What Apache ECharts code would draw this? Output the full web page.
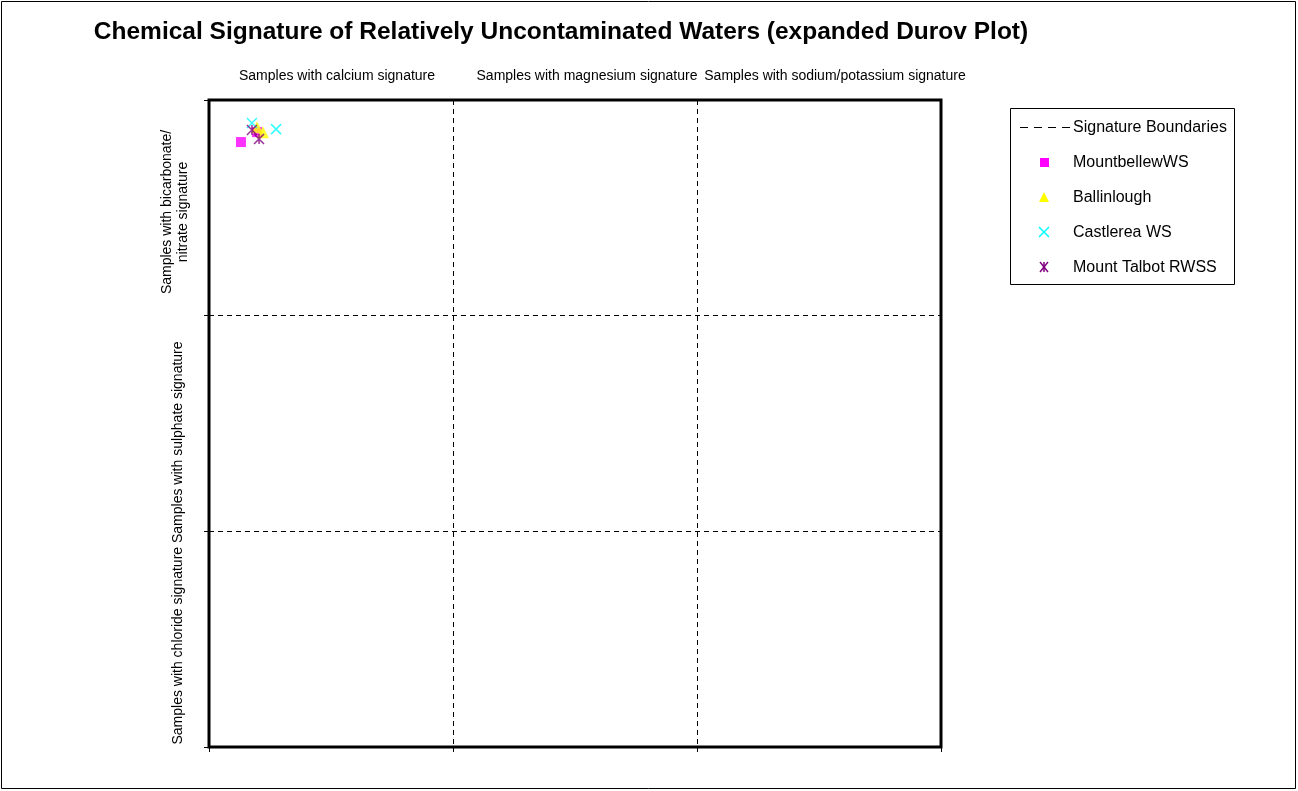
<!DOCTYPE html>
<html>
<head>
<meta charset="utf-8">
<script src="https://cdn.jsdelivr.net/npm/echarts@6/dist/echarts.min.js"></script>
<style>html,body{margin:0;padding:0;background:#fff;}#c{width:1298px;height:791px;}</style>
</head>
<body>
<div id="c"></div>
<script>
const title = 'Chemical Signature of Relatively Uncontaminated Waters (expanded Durov Plot)';
const topLabels = ['Samples with calcium signature', 'Samples with magnesium signature', 'Samples with sodium/potassium signature'];
const leftLabels = ['Samples with bicarbonate/', 'nitrate signature', 'Samples with chloride signature Samples with sulphate signature'];
const axisTicks = [0, 100, 200, 300];
const seriesNames = ['Signature Boundaries', 'MountbellewWS', 'Ballinlough', 'Castlerea WS', 'Mount Talbot RWSS'];
const mountbellew = [[13.1, 280.5], [19.7, 285.1]];
const ballinlough = [[19.7, 287.4], [22.1, 285.1]];
const castlerea = [[17.6, 289.3], [27.5, 286.5]];
const mountTalbot = [[17.6, 286.1], [20.5, 281.9]];

const font = 'Arial, "Liberation Sans", sans-serif';
const chart = echarts.init(document.getElementById('c'));
const xPath = 'path://M0,0L10,10M10,0L0,10';
const starPath = 'path://M0,0L10,10M10,0L0,10M5,0L5,10';

const axisCommon = {
  type: 'value', min: axisTicks[0], max: axisTicks[axisTicks.length - 1], interval: 100,
  axisLabel: { show: false },
  axisLine: { show: false },
  axisTick: { show: true, length: 5, lineStyle: { color: '#000', width: 1 } },
  splitLine: { show: true, lineStyle: { color: '#000', width: 1, type: [5, 4] } }
};

function legendItems() {
  const g = [];
  const x0 = 1010, y0 = 108, w = 224, h = 176;
  g.push({ type: 'rect', shape: { x: x0 + 0.5, y: y0 + 0.5, width: w, height: h }, style: { fill: '#fff', stroke: '#000', lineWidth: 1 }, z: 10 });
  const rows = [127, 162, 197, 232, 267];
  g.push({ type: 'line', shape: { x1: 1020, y1: rows[0] + 0.5, x2: 1071, y2: rows[0] + 0.5 }, style: { stroke: '#000', lineWidth: 1, lineDash: [8, 6] }, z: 11 });
  const cx = 1044;
  g.push({ type: 'rect', shape: { x: cx - 4, y: rows[1] - 4, width: 9, height: 9 }, style: { fill: '#FF00FF' }, z: 11 });
  g.push({ type: 'polygon', shape: { points: [[cx, rows[2] - 5], [cx + 5, rows[2] + 5], [cx - 5, rows[2] + 5]] }, style: { fill: '#FFFF00' }, z: 11 });
  g.push({ type: 'polyline', shape: { points: [[cx - 5, rows[3] - 5], [cx + 5, rows[3] + 5]] }, style: { stroke: '#00FFFF', lineWidth: 1.5 }, z: 11 });
  g.push({ type: 'polyline', shape: { points: [[cx + 5, rows[3] - 5], [cx - 5, rows[3] + 5]] }, style: { stroke: '#00FFFF', lineWidth: 1.5 }, z: 11 });
  [[[cx - 4, rows[4] - 5], [cx + 4, rows[4] + 5]], [[cx + 4, rows[4] - 5], [cx - 4, rows[4] + 5]], [[cx, rows[4] - 5], [cx, rows[4] + 5]]].forEach(p => {
    g.push({ type: 'polyline', shape: { points: p }, style: { stroke: '#800080', lineWidth: 1.5 }, z: 11 });
  });
  seriesNames.forEach((n, i) => {
    g.push({ type: 'text', style: { text: n, x: 1073, y: rows[i] + 1, fill: '#000', font: '16px ' + font, textVerticalAlign: 'middle', textAlign: 'left' }, z: 11 });
  });
  return g;
}

const graphics = [
  { type: 'rect', shape: { x: 1.5, y: 1.5, width: 1294, height: 787 }, style: { fill: 'none', stroke: '#000', lineWidth: 1 }, z: 0 },
  { type: 'text', style: { text: title, x: 561, y: 32, fill: '#000', font: 'bold 24.5px ' + font, textAlign: 'center', textVerticalAlign: 'middle' } },
  { type: 'text', style: { text: topLabels[0], x: 337, y: 76, fill: '#000', font: '14px ' + font, textAlign: 'center', textVerticalAlign: 'middle' } },
  { type: 'text', style: { text: topLabels[1], x: 587, y: 76, fill: '#000', font: '14px ' + font, textAlign: 'center', textVerticalAlign: 'middle' } },
  { type: 'text', style: { text: topLabels[2], x: 835, y: 76, fill: '#000', font: '14px ' + font, textAlign: 'center', textVerticalAlign: 'middle' } },
  { type: 'text', x: 167, y: 212, rotation: Math.PI / 2, style: { text: leftLabels[0], x: 0, y: 0, fill: '#000', font: '14px ' + font, textAlign: 'center', textVerticalAlign: 'middle' } },
  { type: 'text', x: 183, y: 212, rotation: Math.PI / 2, style: { text: leftLabels[1], x: 0, y: 0, fill: '#000', font: '14px ' + font, textAlign: 'center', textVerticalAlign: 'middle' } },
  { type: 'text', x: 178, y: 543, rotation: Math.PI / 2, style: { text: leftLabels[2], x: 0, y: 0, fill: '#000', font: '14px ' + font, textAlign: 'center', textVerticalAlign: 'middle' } }
].concat(legendItems());

chart.setOption({
  animation: false,
  backgroundColor: '#fff',
  grid: { left: 209, top: 100, width: 732, height: 647, show: true, borderColor: '#000', borderWidth: 3, backgroundColor: 'transparent' },
  xAxis: Object.assign({}, axisCommon),
  yAxis: Object.assign({}, axisCommon),
  graphic: graphics,
  series: [
    { name: seriesNames[1], type: 'scatter', data: mountbellew, symbol: 'rect', symbolSize: 10, itemStyle: { color: '#FF00FF' }, emphasis: { disabled: true }, z: 3 },
    { name: seriesNames[2], type: 'scatter', data: ballinlough, symbol: 'triangle', symbolSize: 12, itemStyle: { color: '#FFFF00' }, emphasis: { disabled: true }, z: 4 },
    { name: seriesNames[3], type: 'scatter', data: castlerea, symbol: xPath, symbolSize: 10, itemStyle: { color: 'none', borderColor: '#00FFFF', borderWidth: 1.5 }, emphasis: { disabled: true }, z: 5 },
    { name: seriesNames[4], type: 'scatter', data: mountTalbot, symbol: starPath, symbolSize: 10, itemStyle: { color: 'none', borderColor: '#800080', borderWidth: 1.5 }, emphasis: { disabled: true }, z: 6 }
  ]
});
</script>
</body>
</html>
